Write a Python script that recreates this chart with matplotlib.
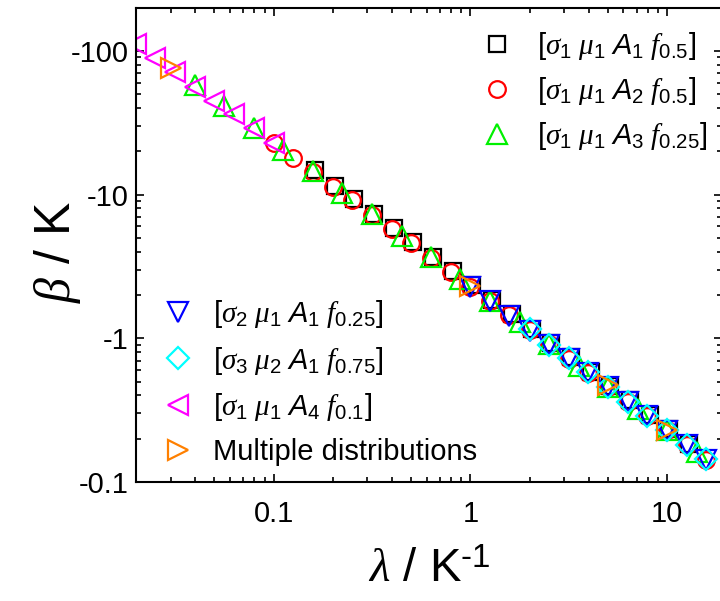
import numpy as np
import matplotlib.pyplot as plt
from matplotlib.ticker import LogLocator, NullFormatter

plt.rcParams['font.family'] = ['Liberation Sans', 'DejaVu Sans']
plt.rcParams['mathtext.fontset'] = 'custom'
plt.rcParams['mathtext.rm'] = 'Liberation Sans'
plt.rcParams['mathtext.it'] = 'Liberation Serif:italic'
plt.rcParams['mathtext.sf'] = 'Liberation Sans:italic'

# [s1 m1 A1 f0.5]  black squares
lam_a1 = [0.162, 0.205, 0.257, 0.324, 0.408, 0.514, 0.647, 0.814, 1.025, 1.29,
          1.62, 2.05, 2.57, 3.24, 4.08, 5.14, 6.47, 8.14, 10.25, 12.9]
beta_a1 = [14.7, 11.5, 9.3, 7.35, 5.87, 4.66, 3.7, 2.94, 2.34, 1.86,
           1.47, 1.16, 0.93, 0.735, 0.587, 0.466, 0.37, 0.294, 0.234, 0.184]

# [s1 m1 A2 f0.5]  red circles
lam_a2 = [0.1, 0.126, 0.158, 0.2, 0.251, 0.316, 0.398, 0.501, 0.631, 0.794, 1.0,
          1.26, 1.58, 2.0, 2.51, 3.16, 3.98, 5.01, 6.31, 7.94, 10.0, 12.6, 15.8]
beta_a2 = [22.7, 18.0, 14.4, 11.3, 9.1, 7.2, 5.75, 4.57, 3.63, 2.88, 2.29,
           1.82, 1.44, 1.14, 0.91, 0.72, 0.575, 0.457, 0.362, 0.288, 0.229, 0.18, 0.143]

# [s1 m1 A3 f0.25]  green triangles
lam_a3 = [0.0398, 0.0562, 0.0794, 0.112, 0.158, 0.224, 0.316, 0.447, 0.631,
          0.891, 1.259, 1.778, 2.512, 3.548, 5.012, 7.079, 10.0, 14.13]
beta_a3 = [58, 41, 29, 20.5, 14.5, 10.3, 7.3, 5.15, 3.65,
           2.58, 1.83, 1.29, 0.91, 0.645, 0.457, 0.323, 0.229, 0.162]

# [s2 m1 A1 f0.25]  blue down triangles
lam_s2 = [1.0, 1.26, 1.58, 2.0, 2.51, 3.16, 3.98, 5.01, 6.31, 7.94, 10.0, 12.6, 15.8]
beta_s2 = [2.28, 1.82, 1.42, 1.13, 0.9, 0.715, 0.57, 0.455, 0.36, 0.286, 0.227, 0.18, 0.143]

# [s3 m2 A1 f0.75]  cyan diamonds
lam_s3 = [2.0, 2.51, 3.16, 3.98, 5.01, 6.31, 7.94, 10.0, 12.6, 15.8]
beta_s3 = [1.16, 0.9, 0.73, 0.58, 0.46, 0.36, 0.29, 0.23, 0.18, 0.144]

# [s1 m1 A4 f0.1]  magenta left triangles
lam_a4 = [0.02, 0.0251, 0.0316, 0.0398, 0.0501, 0.0631, 0.0794, 0.1]
beta_a4 = [112, 89, 71, 56, 45, 36.5, 29, 22.8]

# multiple distributions  orange right triangles
lam_mult = [0.03, 1.0, 5.0, 10.0]
beta_mult = [76, 2.3, 0.47, 0.23]

fig = plt.figure(figsize=(7.2, 6.01), dpi=100)
ax = fig.add_axes([136 / 720, 119 / 601, 586 / 720, 474.5 / 601])

mew = 1.6
kw = dict(ls='none', mfc='none', mew=mew)
h1, = ax.plot(lam_a1, beta_a1, marker='s', ms=11.5, mec='black',
              label=r'[$\sigma_1\ \mu_1\ \mathsf{A}_1\ f_{0.5}$]', **kw)
h2, = ax.plot(lam_a2, beta_a2, marker='o', ms=12, mec='#ff0000',
              label=r'[$\sigma_1\ \mu_1\ \mathsf{A}_2\ f_{0.5}$]', **kw)
h3, = ax.plot(lam_a3, beta_a3, marker='^', ms=15, mec='#00f000',
              label=r'[$\sigma_1\ \mu_1\ \mathsf{A}_3\ f_{0.25}$]', **kw)
h4, = ax.plot(lam_s2, beta_s2, marker='v', ms=15, mec='#0000ff',
              label=r'[$\sigma_2\ \mu_1\ \mathsf{A}_1\ f_{0.25}$]', **kw)
h5, = ax.plot(lam_s3, beta_s3, marker='D', ms=11.5, mec='#00ffff',
              label=r'[$\sigma_3\ \mu_2\ \mathsf{A}_1\ f_{0.75}$]', **kw)
h6, = ax.plot(lam_a4, beta_a4, marker='<', ms=15, mec='#ff00ff',
              label=r'[$\sigma_1\ \mu_1\ \mathsf{A}_4\ f_{0.1}$]', **kw)
h7, = ax.plot(lam_mult, beta_mult, marker='>', ms=15, mec='#ff8000',
              label='Multiple distributions', **kw)

ax.set_xscale('log')
ax.set_yscale('log')
ax.set_xlim(0.02, 19)
ax.set_ylim(0.1, 200)

ax.set_xticks([0.1, 1, 10])
ax.set_xticklabels(['0.1', '1', '10'])
ax.set_yticks([0.1, 1, 10, 100])
ax.set_yticklabels(['-0.1', '-1', '-10', '-100'])
ax.xaxis.set_minor_locator(LogLocator(base=10, subs=np.arange(2, 10) * 1.0, numticks=20))
ax.yaxis.set_minor_locator(LogLocator(base=10, subs=np.arange(2, 10) * 1.0, numticks=20))
ax.xaxis.set_minor_formatter(NullFormatter())
ax.yaxis.set_minor_formatter(NullFormatter())
ax.tick_params(which='both', direction='in', top=True, right=True, width=1.2)
ax.tick_params(which='major', length=6, labelsize=21)
ax.tick_params(axis='x', which='major', pad=13)
ax.tick_params(axis='y', which='major', pad=5.5)
ax.tick_params(which='minor', length=3.5)
for s in ax.spines.values():
    s.set_linewidth(1.5)

ax.set_xlabel(r'$\lambda$ / K$^{\text{-1}}$', fontsize=34)
ax.set_ylabel(r'$\beta$ / K', fontsize=36)
ax.xaxis.set_label_coords(0.5, -0.139)
ax.yaxis.set_label_coords(-0.09, 0.485)

leg1 = ax.legend(handles=[h1, h2, h3], loc='upper left', bbox_to_anchor=(482 / 720, 1 - 30 / 601),
                 bbox_transform=fig.transFigure, frameon=False, fontsize=21, borderpad=0,
                 handlelength=1.0, handletextpad=0.9, labelspacing=0.45, borderaxespad=0)
ax.add_artist(leg1)
ax.legend(handles=[h4, h5, h6, h7], loc='upper left', bbox_to_anchor=(163 / 720, 1 - 298 / 601),
          bbox_transform=fig.transFigure, frameon=False, fontsize=21, borderpad=0,
          handlelength=1.0, handletextpad=0.72, labelspacing=0.5, borderaxespad=0)

fig.savefig('out.png', dpi=100)
